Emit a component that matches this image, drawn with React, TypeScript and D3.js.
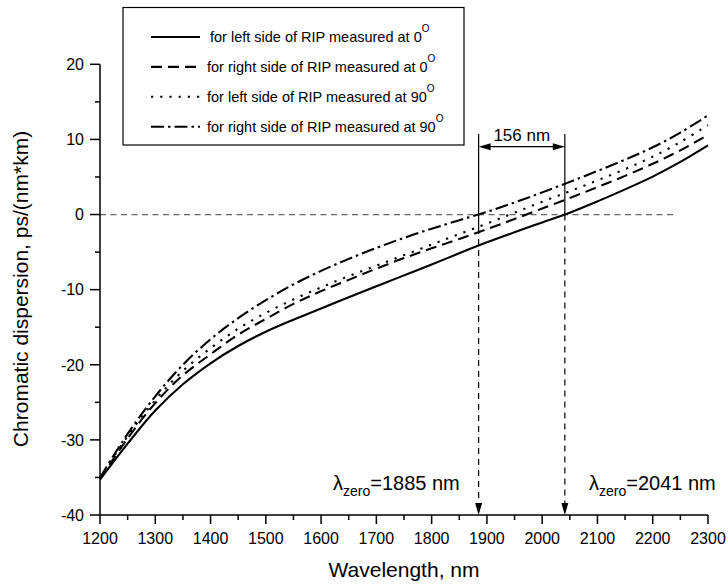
import React from 'react';
import * as d3 from 'd3';

const wavelengths = [1200,1250,1300,1350,1400,1450,1500,1550,1600,1650,1700,1750,1800,1850,1900,1950,2000,2050,2100,2150,2200,2250,2300];
const leftSide0 = [-35.3,-30.5,-26.1,-22.6,-19.8,-17.5,-15.6,-14.0,-12.5,-11.0,-9.55,-8.1,-6.65,-5.15,-3.7,-2.35,-1.05,0.25,1.75,3.35,5.05,7.0,9.2];
const rightSide0 = [-35.2,-29.8,-25.1,-21.4,-18.6,-16.0,-13.9,-11.9,-10.2,-8.7,-7.2,-5.8,-4.5,-3.25,-1.95,-0.6,0.8,2.2,3.65,5.15,6.75,8.55,10.6];
const leftSide90 = [-35.1,-29.5,-24.7,-20.8,-17.8,-15.2,-13.1,-11.3,-9.7,-8.2,-6.8,-5.4,-4.0,-2.6,-1.2,0.25,1.7,3.1,4.55,6.05,7.7,9.65,11.9];
const rightSide90 = [-35.0,-29.2,-24.2,-20.0,-16.6,-13.8,-11.4,-9.3,-7.5,-5.9,-4.45,-3.1,-1.9,-0.75,0.35,1.6,2.95,4.35,5.8,7.3,8.95,10.9,13.2];

const seriesLabels = [
  'for left side of RIP measured at 0',
  'for right side of RIP measured at 0',
  'for left side of RIP measured at 90',
  'for right side of RIP measured at 90',
];
const seriesValues = [leftSide0, rightSide0, leftSide90, rightSide90];
const seriesDash = ['none', '11,6', '2.2,7', '13,4,2.5,4'];

const xMajorTicks = [1200,1300,1400,1500,1600,1700,1800,1900,2000,2100,2200,2300];
const xMinorTicks = [1250,1350,1450,1550,1650,1750,1850,1950,2050,2150,2250];
const yMajorTicks = [-40,-30,-20,-10,0,10,20];
const yMinorTicks = [-35,-25,-15,-5,5,15];

const zeroWavelengths = [1885, 2041];
const zeroLineEnd = 2237;
const spanLabel = '156 nm';

const FONT = '"Liberation Sans", Arial, sans-serif';

export default function App() {
  const x = d3.scaleLinear().domain([1200, 2300]).range([100, 708]);
  const y = d3.scaleLinear().domain([-40, 20]).range([515, 64.3]);
  const line = d3.line<[number, number]>()
    .x(d => x(d[0]))
    .y(d => y(d[1]))
    .curve(d3.curveCatmullRom.alpha(0.5));

  const [z1, z2] = zeroWavelengths;
  const xa = x(z1), xb = x(z2);
  const arrowY = 146.7;

  return (
    <svg width={728} height={585} style={{ position: 'absolute', left: 0, top: 0, background: '#fff' }}
      fontFamily={FONT}>
      <rect width={728} height={585} fill="#fff" />
      {/* zero line */}
      <line x1={x(1200)} x2={x(zeroLineEnd)} y1={y(0)} y2={y(0)} stroke="#666" strokeWidth={1.3} strokeDasharray="6,4.5" />

      {/* curves */}
      {seriesValues.map((vals, i) => (
        <path key={i} d={line(wavelengths.map((w, j) => [w, vals[j]] as [number, number])) || ''}
          fill="none" stroke="#000" strokeWidth={2.1}
          strokeDasharray={seriesDash[i] === 'none' ? undefined : seriesDash[i]} />
      ))}

      {/* vertical markers */}
      <line x1={xa} x2={xa} y1={134} y2={228} stroke="#000" strokeWidth={1.2} />
      <line x1={xa} x2={xa} y1={228} y2={504} stroke="#000" strokeWidth={1.2} strokeDasharray="6,5" />
      <line x1={xb} x2={xb} y1={134} y2={y(0)} stroke="#000" strokeWidth={1.2} />
      <line x1={xb} x2={xb} y1={y(0)} y2={504} stroke="#000" strokeWidth={1.2} strokeDasharray="6,5" />
      <path d={`M${xa - 3.5},503 L${xa + 3.5},503 L${xa},515 Z`} fill="#000" />
      <path d={`M${xb - 3.5},503 L${xb + 3.5},503 L${xb},515 Z`} fill="#000" />

      {/* double arrow */}
      <line x1={xa + 10} x2={xb - 10} y1={arrowY} y2={arrowY} stroke="#000" strokeWidth={1.2} />
      <path d={`M${xa},${arrowY} L${xa + 12},${arrowY - 3.5} L${xa + 12},${arrowY + 3.5} Z`} fill="#000" />
      <path d={`M${xb},${arrowY} L${xb - 12},${arrowY - 3.5} L${xb - 12},${arrowY + 3.5} Z`} fill="#000" />
      <text x={(xa + xb) / 2} y={140.5} fontSize={17} textAnchor="middle">{spanLabel}</text>

      {/* lambda labels */}
      <text x={333} y={490} fontSize={20}>
        <tspan>λ</tspan><tspan fontSize={14} dy={6}>zero</tspan><tspan dy={-6}>{`=${z1} nm`}</tspan>
      </text>
      <text x={589} y={490} fontSize={20}>
        <tspan>λ</tspan><tspan fontSize={14} dy={6}>zero</tspan><tspan dy={-6}>{`=${z2} nm`}</tspan>
      </text>

      {/* axes */}
      <line x1={x(1200)} x2={x(2300)} y1={515} y2={515} stroke="#000" strokeWidth={1.5} />
      <line x1={100} x2={100} y1={y(20)} y2={515} stroke="#000" strokeWidth={1.5} />
      {xMajorTicks.map(t => (
        <g key={t}>
          <line x1={x(t)} x2={x(t)} y1={515} y2={524} stroke="#000" strokeWidth={1.5} />
          <text x={x(t)} y={544} fontSize={16} textAnchor="middle">{t}</text>
        </g>
      ))}
      {xMinorTicks.map(t => (
        <line key={t} x1={x(t)} x2={x(t)} y1={515} y2={520} stroke="#000" strokeWidth={1.5} />
      ))}
      {yMajorTicks.map(t => (
        <g key={t}>
          <line x1={90} x2={100} y1={y(t)} y2={y(t)} stroke="#000" strokeWidth={1.5} />
          <text x={84} y={y(t) + 5.8} fontSize={16} textAnchor="end">{t}</text>
        </g>
      ))}
      {yMinorTicks.map(t => (
        <line key={t} x1={95} x2={100} y1={y(t)} y2={y(t)} stroke="#000" strokeWidth={1.5} />
      ))}

      <text x={404} y={577} fontSize={21} textAnchor="middle">Wavelength, nm</text>
      <text transform="translate(28,289) rotate(-90)" fontSize={21} textAnchor="middle">Chromatic dispersion, ps/(nm*km)</text>

      {/* legend */}
      <rect x={123} y={7.5} width={341} height={137.5} fill="#fff" stroke="#000" strokeWidth={1.2} />
      {seriesLabels.map((lab, i) => {
        const cy = 37 + i * 29.9;
        return (
          <g key={i}>
            <line x1={151} x2={200} y1={cy} y2={cy} stroke="#000" strokeWidth={2.1}
              strokeDasharray={seriesDash[i] === 'none' ? undefined : seriesDash[i]} />
            <text x={i === 0 ? 210 : 207} y={cy + 5} fontSize={14.5}>
              {lab}<tspan fontSize={10} dy={-10}>O</tspan>
            </text>
          </g>
        );
      })}
    </svg>
  );
}
